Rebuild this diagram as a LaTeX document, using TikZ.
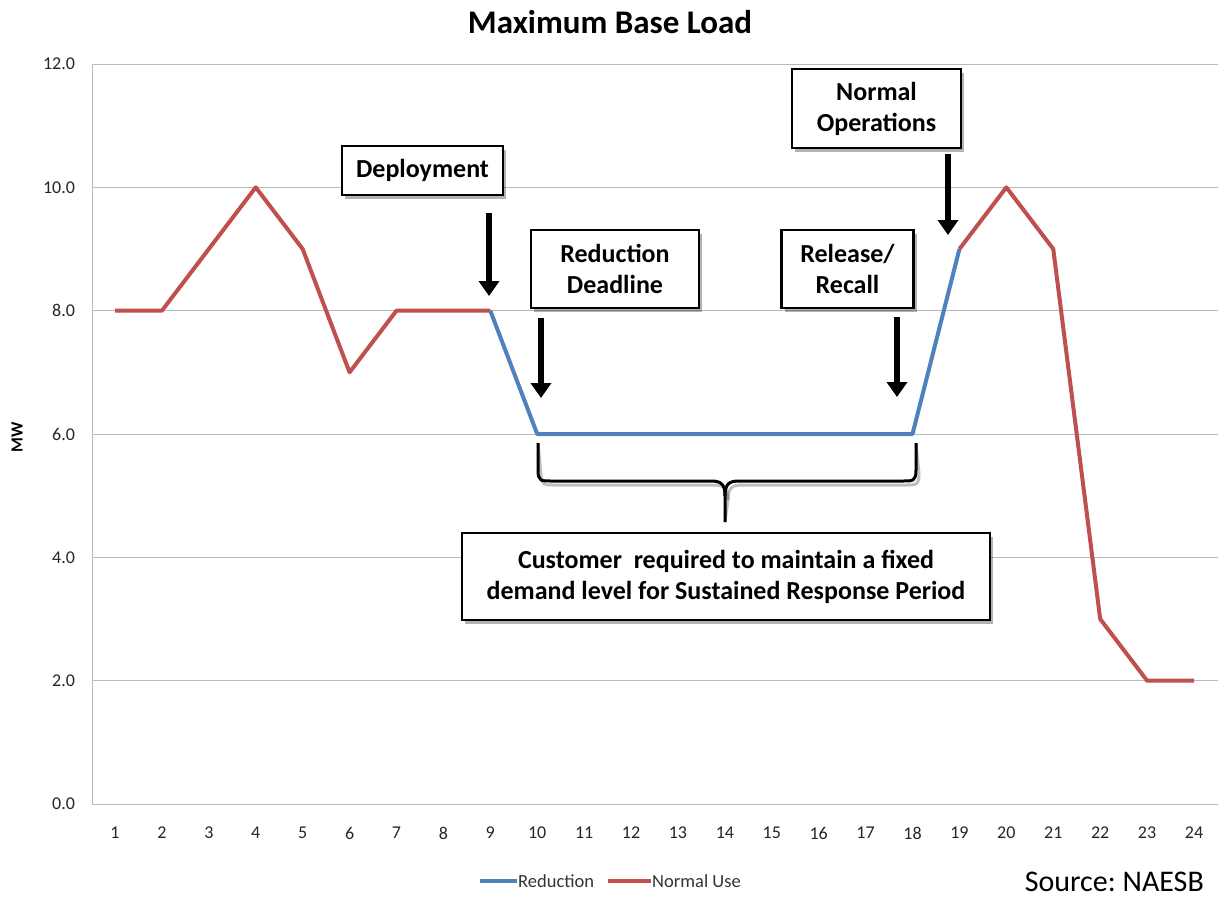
\documentclass[tikz,border=0pt]{standalone}
\usepackage{fontspec}
\setmainfont{Carlito}
\usetikzlibrary{arrows.meta,shadows}
\definecolor{redline}{HTML}{C0504D}
\definecolor{blueline}{HTML}{4F81BD}
\frenchspacing
\begin{document}
\begin{tikzpicture}[x=1pt,y=-1pt,
  grid/.style={draw=gray!55, line width=0.8pt},
  tick/.style={font=\fontsize{18}{21}\selectfont, text=black!85},
  callout/.style={draw=black, line width=2.5pt, fill=white, font=\fontsize{26}{31}\selectfont\bfseries, align=center, inner sep=0pt,
    drop shadow={shadow xshift=3pt, shadow yshift=-4pt, fill=black, opacity=0.3}},
  bigarrow/.style={line width=6.5pt, -{Triangle[length=15pt,width=20pt]}},
  series/.style={line width=4pt, line join=round},
  legtext/.style={anchor=west, inner sep=1pt, font=\fontsize{18.5}{21}\selectfont, text=black!80}
]
\useasboundingbox (0,0) rectangle (1224,897);
\fill[white] (0,0) rectangle (1224,897);

\begin{scope}[shift={(68.087,804)}, x=46.913pt, y=61.667pt]
  \foreach \v in {2,4,...,12} \draw[grid] (0.51,\v) -- (24.51,\v);
  \draw[grid] (0.51,0) -- (24.51,0);
  \draw[grid] (0.51,0) -- (0.51,12);
  \foreach \v/\t in {0/0.0,2/2.0,4/4.0,6/6.0,8/8.0,10/10.0,12/12.0}
    \node[tick, anchor=east, inner sep=0pt] (y\v) at (0.15,\v) {\t};
  \foreach \i in {1,...,24}
    \node[tick, inner sep=0pt] (x\i) at (\i,-0.47) {\i};
  \draw[series, redline] (1,8) -- (2,8) -- (3,9) -- (4,10) -- (5,9) -- (6,7) -- (7,8) -- (8,8) -- (9,8);
  \draw[series, redline] (19,9) -- (20,10) -- (21,9) -- (22,3) -- (23,2) -- (24,2);
  \draw[series, blueline] (9,8) -- (10,6) -- (18,6) -- (19,9);
\end{scope}

\node[font=\fontsize{33}{38}\selectfont\bfseries] (title) at (610,22) {Maximum Base Load};
\node[rotate=90, font=\fontsize{17}{20}\selectfont\bfseries] (mw) at (17,437) {MW};

% callouts
\node[callout, minimum width=161pt, minimum height=49pt] (dep) at (422.5,170.5) {Deployment};
\node[callout, minimum width=168pt, minimum height=78pt] (red) at (615,269) {Reduction\\Deadline};
\node[callout, minimum width=132pt, minimum height=78pt] (rel) at (847.5,269) {Release/\\Recall};
\node[callout, minimum width=169pt, minimum height=79pt] (norm) at (876.5,108.5) {Normal\\Operations};
\node[callout, minimum width=528pt, minimum height=87pt] (cust) at (726,576.5) {Customer~ required to maintain a fixed\\demand level for Sustained Response Period};

% arrows
\coordinate (a1s) at (489,213); \coordinate (a1e) at (489,296);
\coordinate (a2s) at (541,318); \coordinate (a2e) at (541,398);
\coordinate (a3s) at (897,317); \coordinate (a3e) at (897,397);
\coordinate (a4s) at (948,154); \coordinate (a4e) at (948,235);
\draw[bigarrow] (a1s) -- (a1e);
\draw[bigarrow] (a2s) -- (a2e);
\draw[bigarrow] (a3s) -- (a3e);
\draw[bigarrow] (a4s) -- (a4e);

% brace
\coordinate (bl) at (538,443); \coordinate (br) at (916,443); \coordinate (bt) at (725,522);
\foreach \dx/\dy/\col/\op in {3/4/black/0.25, 0/0/black/1} {
  \begin{scope}[shift={(\dx,\dy)}]
    \draw[line width=3pt, line join=round, draw=\col, opacity=\op]
      (bl) -- (538,470) .. controls (538,481) and (541,481) .. (551,481) -- (711,481)
      .. controls (721,481) and (725,484) .. (725,496) -- (bt);
    \draw[line width=3pt, line join=round, draw=\col, opacity=\op]
      (br) -- (916,470) .. controls (916,481) and (913,481) .. (903,481) -- (739,481)
      .. controls (729,481) and (725,484) .. (725,496);
  \end{scope}
}

% legend
\coordinate (lb1) at (480,881); \coordinate (lb2) at (517,881);
\coordinate (lr1) at (608,881); \coordinate (lr2) at (651,881);
\draw[blueline, line width=4pt] (lb1) -- (lb2);
\node[legtext] (lbt) at (lb2) {Reduction};
\draw[redline, line width=4pt] (lr1) -- (lr2);
\node[legtext] (lrt) at (lr2) {Normal Use};

\node[anchor=east, font=\fontsize{30}{34}\selectfont, inner sep=0pt] (src) at (1204,882) {Source: NAESB};
\end{tikzpicture}
\end{document}
